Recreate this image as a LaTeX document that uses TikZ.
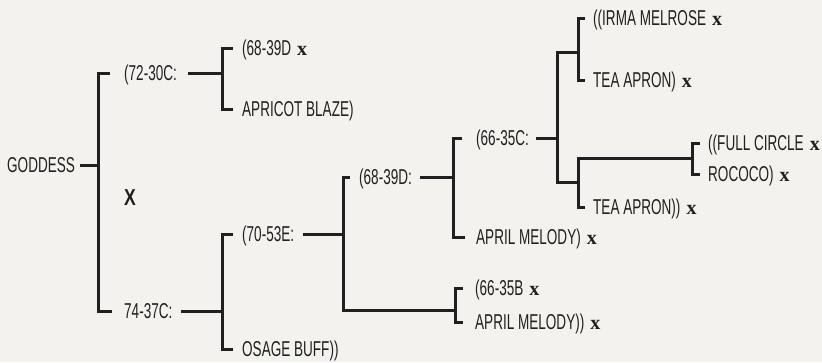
\documentclass[tikz,border=0pt]{standalone}
\usepackage{fontspec}
\setmainfont{Liberation Sans}
\newfontfamily\serx{Liberation Serif}
\newcommand{\xx}{\hspace{6pt}{\serx\bfseries\fontsize{20}{20}\selectfont x}}
\newcommand{\cn}[1]{\scalebox{0.63}[1]{\fontsize{21.5}{21.5}\selectfont #1}}
\definecolor{ink}{HTML}{231F20}
\definecolor{paper}{HTML}{F3F2EE}
\begin{document}
\begin{tikzpicture}[x=1pt,y=-1pt,
  lbl/.style={anchor=west,inner sep=0pt,text height=15pt,text depth=0pt,text=ink},
  ln/.style={draw=ink,line width=3pt,line cap=butt,line join=miter}]
\fill[paper] (0,0) rectangle (822,362);
\useasboundingbox (0,0) rectangle (822,362);
% labels
\node[lbl] (goddess) at (7,165) {\cn{GODDESS}};
\node[lbl] (n7230) at (124,73) {\cn{(72-30C:}};
\node[lbl] (bigx) at (124,198) {\scalebox{0.8}[1.05]{\fontsize{22}{22}\selectfont\bfseries X}};
\node[lbl] (n7437) at (124,311) {\cn{74-37C:}};
\node[lbl] (n6839x) at (242,48) {\cn{(68-39D}\xx};
\node[lbl] (apricot) at (242,109) {\cn{APRICOT BLAZE)}};
\node[lbl] (n7053) at (242,234) {\cn{(70-53E:}};
\node[lbl] (osage) at (242,349) {\cn{OSAGE BUFF))}};
\node[lbl] (n6839D) at (359,177) {\cn{(68-39D:}};
\node[lbl] (april1) at (476,237) {\cn{APRIL MELODY)}\xx};
\node[lbl] (n6635C) at (476,138) {\cn{(66-35C:}};
\node[lbl] (n6635B) at (475,288) {\cn{(66-35B}\xx};
\node[lbl] (april2) at (475,322) {\cn{APRIL MELODY))}\xx};
\node[lbl] (irma) at (593,18) {\cn{((IRMA MELROSE}\xx};
\node[lbl] (tea1) at (593,80) {\cn{TEA APRON)}\xx};
\node[lbl] (tea2) at (593,207) {\cn{TEA APRON))}\xx};
\node[lbl] (full) at (708,143) {\cn{((FULL CIRCLE}\xx};
\node[lbl] (rococo) at (708,174) {\cn{ROCOCO)}\xx};
% spines
\coordinate (s1) at (98,165);
\coordinate (s2) at (222,73);
\coordinate (s3) at (222,311);
\coordinate (s4) at (343,234);
\coordinate (s5) at (453,177);
\coordinate (s6) at (557,138);
\coordinate (s7) at (455,310);
\coordinate (s8) at (578,52);
\coordinate (s9) at (578,182);
\coordinate (s10) at (692,158);
% connectors
\draw[ln] ([xshift=5pt]goddess.east) -- (s1);
\draw[ln] ([xshift=-14pt]n7230.west) -| (s1) |- ([xshift=-12pt]n7437.west);
\draw[ln] ([xshift=11pt]n7230.east) -- (s2);
\draw[ln] ([xshift=-9pt]n6839x.west) -| (s2) |- ([xshift=-9pt]apricot.west);
\draw[ln] ([xshift=8pt]n7437.east) -- (s3);
\draw[ln] ([xshift=-9pt]n7053.west) -| (s3) |- ([xshift=-9pt]osage.west);
\draw[ln] ([xshift=9pt]n7053.east) -- (s4);
\draw[ln] ([xshift=-9pt]n6839D.west) -| (s4) |- (s7);
\draw[ln] ([xshift=-12pt]n6635B.west) -| (s7) |- ([xshift=-12pt]april2.west);
\draw[ln] ([xshift=8pt]n6839D.east) -- (s5);
\draw[ln] ([xshift=-14pt]n6635C.west) -| (s5) |- ([xshift=-11pt]april1.west);
\draw[ln] ([xshift=7pt]n6635C.east) -- (s6);
\draw[ln] (s8) -| (s6) |- (s9);
\draw[ln] ([xshift=-8pt]irma.west) -| (s8) |- ([xshift=-8pt]tea1.west);
\draw[ln] ([xshift=-8pt]full.west) -| (s10) -| (s9) |- ([xshift=-8pt]tea2.west);
\draw[ln] ([xshift=-8pt]full.west) -| ([xshift=-16pt]full.west |- s10) |- ([xshift=-8pt]rococo.west);
\end{tikzpicture}
\end{document}
